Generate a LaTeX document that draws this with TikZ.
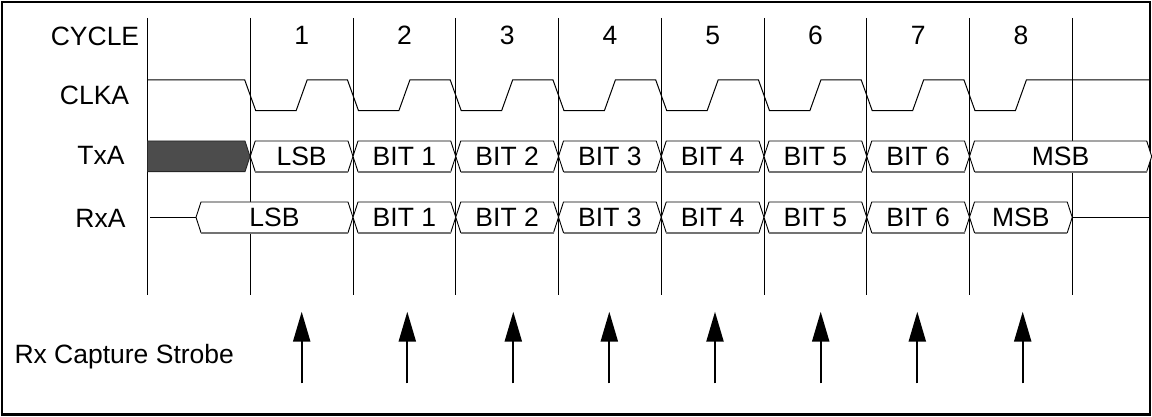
\documentclass[tikz,border=0pt]{standalone}
\usepackage{fontspec}
\setmainfont{Liberation Sans}
\usepackage{tikz}
\usetikzlibrary{arrows.meta}

\tikzset{
  sig/.style={anchor=base},
  busbox/.style={draw=black, line width=0.9pt, fill=white},
  busshade/.style={draw=black!55, line width=1.7pt},
  strobearrow/.style={line width=2.3pt, -{Triangle[width=17pt,length=30pt]}}
}

\begin{document}
\begin{tikzpicture}[x=1pt, y=-1pt, line width=1pt, font=\fontsize{26.5}{31}\selectfont]
\useasboundingbox (0,0) rectangle (1152,417);
% Outer frame
\draw[line width=2.5pt] (2,2) rectangle (1150,414.5);

% Cycle boundaries
\foreach \i in {0,...,9}
  \draw ({147.5+102.75*\i},18) -- ({147.5+102.75*\i},295);

% Row labels
\node[sig] (cycle) at (95,45.7) {CYCLE};
\node[sig] (clka) at (94.5,104.3) {CLKA};
\node[sig] (txa) at (101,165) {TxA};
\node[sig] (rxa) at (100.5,227.7) {RxA};
\node[anchor=base west, inner sep=0pt] (strobe) at (14,363) {Rx Capture Strobe};

% Cycle numbers
\foreach \i in {1,...,8}
  \node[sig] (num\i) at ({198.875+102.75*\i},44.5) {\i};

% Clock
\draw (147.5,80)
  \foreach \i in {1,...,8} {
    -- ({147.5+102.75*\i-5.5},80) -- ({147.5+102.75*\i+5.5},110.7)
    -- ({198.875+102.75*\i-5.5},110.7) -- ({198.875+102.75*\i+5.5},80)
  } -- (1150,80);

% TxA: idle (dark) then data
\filldraw[fill=black!70, draw=black!85, line width=0.9pt]
  (147.5,141) -- (245,141) -- (250,156.4) -- (245,171.7) -- (147.5,171.7) -- cycle;
\foreach \lbl [count=\i] in {LSB,BIT 1,BIT 2,BIT 3,BIT 4,BIT 5,BIT 6,MSB} {
  \pgfmathsetmacro{\xa}{147.5+102.75*\i}
  \pgfmathsetmacro{\xb}{\i<8 ? 147.5+102.75*(\i+1) : 1151.7}
  \draw[busbox] (\xa,156.4) -- (\xa+5,141) -- (\xb-5,141) -- (\xb,156.4)
    -- (\xb-5,171.7) -- (\xa+5,171.7) -- cycle;
  \draw[busshade] (\xa+5,171.7) -- (\xb-5,171.7);
  \node[sig] (tx\i) at ({(\xa+\xb)/2},165.5) {\lbl};
}

% RxA: idle line then data
\draw (150,217.3) -- (196,217.3);
\foreach \lbl [count=\i] in {LSB,BIT 1,BIT 2,BIT 3,BIT 4,BIT 5,BIT 6,MSB} {
  \pgfmathsetmacro{\xa}{\i>1 ? 147.5+102.75*\i : 196}
  \pgfmathsetmacro{\xb}{147.5+102.75*(\i+1)}
  \draw[busbox] (\xa,217.3) -- (\xa+5,202) -- (\xb-5,202) -- (\xb,217.3)
    -- (\xb-5,232.7) -- (\xa+5,232.7) -- cycle;
  \draw[busshade] (\xa+5,232.7) -- (\xb-5,232.7);
  \node[sig] (rx\i) at ({(\xa+\xb)/2},226.5) {\lbl};
}
\draw (1072.25,217.3) -- (1150,217.3);

% Capture strobes
\foreach \x [count=\i] in {301.7,407.3,513.3,609.3,715,820.7,917.3,1022.7} {
  \coordinate (sb\i) at (\x,383.3);
  \coordinate (st\i) at (\x,311.7);
  \draw[strobearrow] (sb\i) -- (st\i);
}

\end{tikzpicture}
\end{document}
